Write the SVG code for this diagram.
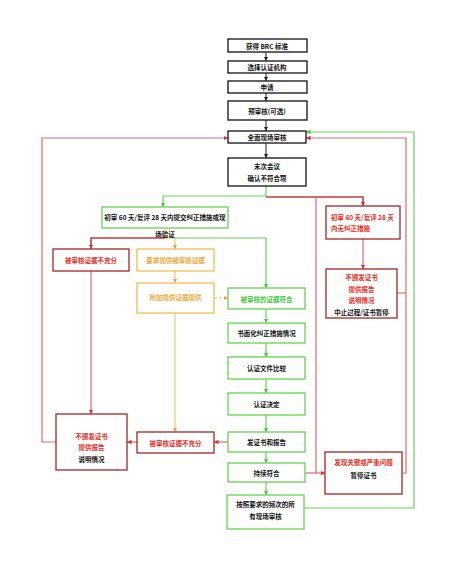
<svg xmlns="http://www.w3.org/2000/svg" width="452" height="567" viewBox="0 0 452 567">
<defs>
<style>
text{font-family:"Noto Sans CJK SC","Liberation Sans",sans-serif;font-size:6.5px;font-weight:bold;text-anchor:middle;dominant-baseline:central}
.bk rect{fill:#fff;stroke:#222;stroke-width:1.4}
.gn rect{fill:#fff;stroke:#6fd65f;stroke-width:1.4}
.rd rect{fill:#fff;stroke:#a83636;stroke-width:1.4}
.og rect{fill:#fff;stroke:#f2c060;stroke-width:1.4}
.tk{fill:#111}
.tr{fill:#e82a22}
.tg{fill:#3cc83c}
.to{fill:#f0a838}
.cb{stroke:#222;stroke-width:1;fill:none}
.cg{stroke:#66d455;stroke-width:1.2;fill:none}
.cr{stroke:#e06a6a;stroke-width:1.2;fill:none}
.cr2{stroke:#c83a3a;stroke-width:1.6;fill:none}
.co{stroke:#f0c070;stroke-width:1.1;fill:none}
</style>
<marker id="ab" viewBox="0 0 6 6" refX="6" refY="3" markerWidth="4" markerHeight="4" orient="auto" markerUnits="userSpaceOnUse"><path d="M0,0L6,3L0,6z" fill="#222"/></marker>
<marker id="ag" viewBox="0 0 6 6" refX="6" refY="3" markerWidth="4.5" markerHeight="4.5" orient="auto" markerUnits="userSpaceOnUse"><path d="M0,0L6,3L0,6z" fill="#44c844"/></marker>
<marker id="ar" viewBox="0 0 6 6" refX="6" refY="3" markerWidth="4.5" markerHeight="4.5" orient="auto" markerUnits="userSpaceOnUse"><path d="M0,0L6,3L0,6z" fill="#d03030"/></marker>
<marker id="ao" viewBox="0 0 6 6" refX="6" refY="3" markerWidth="4.5" markerHeight="4.5" orient="auto" markerUnits="userSpaceOnUse"><path d="M0,0L6,3L0,6z" fill="#e8a040"/></marker>
</defs>
<rect width="452" height="567" fill="#fff"/>

<g id="connectors">
<path class="cb" d="M266,52V61" marker-end="url(#ab)"/>
<path class="cb" d="M266,73V81" marker-end="url(#ab)"/>
<path class="cb" d="M266,93V101" marker-end="url(#ab)"/>
<path class="cb" d="M266,120V131" marker-end="url(#ab)"/>
<path class="cb" d="M266,143V158" marker-end="url(#ab)"/>
<path class="cg" d="M266,186V196H163V207" marker-end="url(#ag)"/>
<path class="cr2" d="M266,197H363V206" marker-end="url(#ar)"/>
<path class="cr" d="M316,197V473"/>
<path class="cr" d="M363,239V269" marker-end="url(#ar)"/>
<path class="cr" d="M397,293H406"/>
<path class="cr" d="M402,473H406V138H306" marker-end="url(#ar)"/>
<path class="cg" d="M304,508H414V132H306" marker-end="url(#ag)"/>
<path class="cr" d="M56,442H42V138H228" marker-end="url(#ar)"/>
<path class="co" d="M165,228V238"/>
<path class="cr2" d="M165,238H91V249" marker-end="url(#ar)"/>
<path class="co" d="M165,238H175V249" marker-end="url(#ao)"/>
<path class="cg" d="M175,238H266V288" marker-end="url(#ag)"/>
<path class="co" d="M175,271V283" marker-end="url(#ao)"/>
<path class="co" d="M214,298H228" stroke-dasharray="3,2" marker-end="url(#ao)"/>
<path class="co" d="M175,313V432" marker-end="url(#ao)"/>
<path class="cr" d="M91,271V414" marker-end="url(#ar)"/>
<path class="cg" d="M266,309V323" marker-end="url(#ag)"/>
<path class="cg" d="M266,343V357" marker-end="url(#ag)"/>
<path class="cg" d="M266,379V393" marker-end="url(#ag)"/>
<path class="cg" d="M266,415V432" marker-end="url(#ag)"/>
<path class="cg" d="M266,452V463" marker-end="url(#ag)"/>
<path class="cg" d="M266,482V495" marker-end="url(#ag)"/>
<path class="cr" d="M228,442H214" marker-end="url(#ar)"/>
<path class="cr" d="M137,442H127" marker-end="url(#ar)"/>
<path class="cr" d="M305,473H325" marker-end="url(#ar)"/>
</g>

<g id="n1" class="bk"><rect x="228" y="39" width="79" height="13"/><text class="tk" x="267" y="45.5">获得 BRC 标准</text></g>
<g id="n2" class="bk"><rect x="228" y="61" width="79" height="12"/><text class="tk" x="267" y="67">选择认证机构</text></g>
<g id="n3" class="bk"><rect x="228" y="81" width="79" height="12"/><text class="tk" x="267" y="87">申请</text></g>
<g id="n4" class="bk"><rect x="228" y="101" width="79" height="19"/><text class="tk" x="267" y="110.5">预审核(可选)</text></g>
<g id="n5" class="bk"><rect x="228" y="131" width="78" height="12"/><text class="tk" x="267" y="137">全面现场审核</text></g>
<g id="n6" class="bk"><rect x="228" y="158" width="78" height="28"/><text class="tk" x="267" y="166">末次会议</text><text class="tk" x="267" y="178">确认不符合项</text></g>

<g id="n7" class="gn"><rect x="102" y="207" width="126" height="21"/><text class="tk" x="165" y="217">初审 60 天/复评 28 天内提交纠正措施或现</text><text class="tk" x="165" y="234">场验证</text></g>
<g id="n8" class="rd"><rect x="326" y="206" width="74" height="33"/><text class="tr" x="331" y="217" style="text-anchor:start">初审 60 天/复评 28 天</text><text class="tr" x="331" y="228" style="text-anchor:start">内无纠正措施</text></g>
<g id="n9" class="rd"><rect x="326" y="269" width="71" height="49"/><text class="tr" x="361.5" y="277">不颁发证书</text><text class="tr" x="361.5" y="289">提供报告</text><text class="tr" x="361.5" y="300">说明情况</text><text class="tk" x="361.5" y="312">中止过程/证书暂停</text></g>

<g id="n10" class="rd"><rect x="53" y="249" width="76" height="22"/><text class="tr" x="91" y="260">被审核证据不充分</text></g>
<g id="n11" class="og"><rect x="137" y="249" width="77" height="22"/><text class="to" x="175.5" y="260">要求提供被审核证据</text></g>
<g id="n12" class="og"><rect x="137" y="283" width="77" height="30"/><text class="to" x="175.5" y="297">附加提供证据提供</text></g>
<g id="n13" class="gn"><rect x="228" y="288" width="77" height="21"/><text class="tg" x="266.5" y="298.5">被审核的证据符合</text></g>
<g id="n14" class="gn"><rect x="228" y="323" width="77" height="20"/><text class="tk" x="266.5" y="333">书面化纠正措施情况</text></g>
<g id="n15" class="gn"><rect x="228" y="357" width="77" height="22"/><text class="tk" x="266.5" y="368">认证文件比较</text></g>
<g id="n16" class="gn"><rect x="228" y="393" width="77" height="22"/><text class="tk" x="266.5" y="404">认证决定</text></g>
<g id="n17" class="gn"><rect x="228" y="432" width="77" height="20"/><text class="tk" x="266.5" y="442">发证书和报告</text></g>
<g id="n18" class="gn"><rect x="228" y="463" width="77" height="19"/><text class="tk" x="266.5" y="472.5">持续符合</text></g>
<g id="n19" class="gn"><rect x="227" y="495" width="77" height="34"/><text class="tk" x="265.5" y="504">按照要求的频次的所</text><text class="tk" x="265.5" y="516">有现场审核</text></g>

<g id="n20" class="rd"><rect x="137" y="432" width="77" height="21"/><text class="tr" x="175.5" y="442.5">被审核证据不充分</text></g>
<g id="n21" class="rd"><rect x="56" y="414" width="71" height="56"/><text class="tr" x="91.5" y="436">不颁发证书</text><text class="tr" x="91.5" y="447">提供报告</text><text class="tk" x="91.5" y="459">说明情况</text></g>
<g id="n22" class="rd"><rect x="325" y="452" width="77" height="42"/><text class="tr" x="363.5" y="462">发现关键或严重问题</text><text class="tk" x="363.5" y="475">暂停证书</text></g>
</svg>
